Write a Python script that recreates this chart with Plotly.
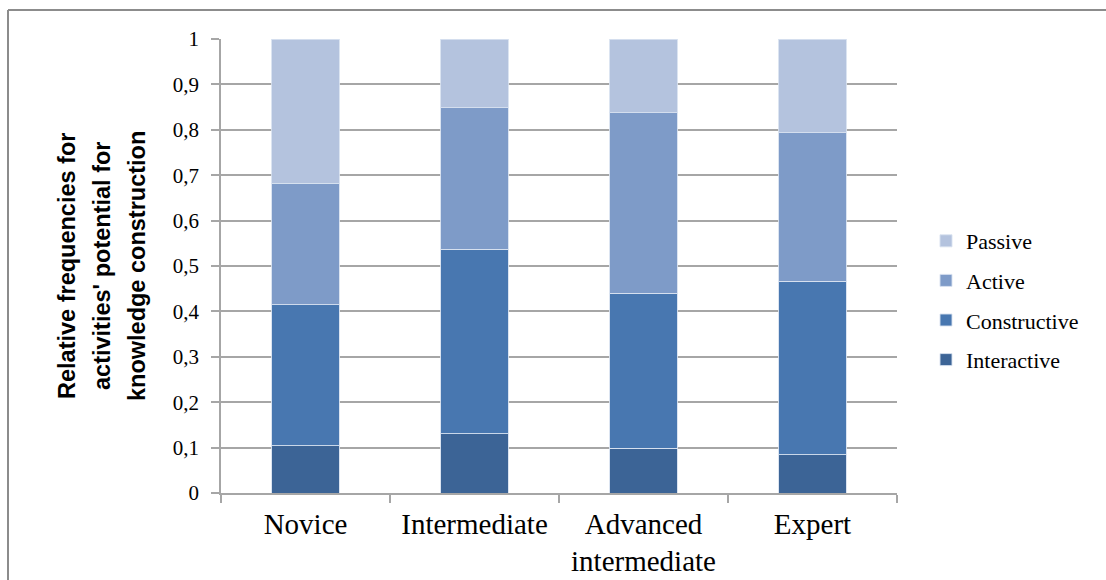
import plotly.graph_objects as go

# Expertise levels and the share of activities per knowledge-construction mode
levels = ["Novice", "Intermediate", "Advanced<br>intermediate", "Expert"]
interactive = [0.104, 0.130, 0.099, 0.084]
constructive = [0.311, 0.407, 0.341, 0.382]
active = [0.267, 0.312, 0.398, 0.327]
passive = [0.318, 0.151, 0.162, 0.207]

y_ticks = [0, 0.1, 0.2, 0.3, 0.4, 0.5, 0.6, 0.7, 0.8, 0.9, 1]
y_tick_text = ["0", "0,1", "0,2", "0,3", "0,4", "0,5", "0,6", "0,7", "0,8", "0,9", "1"]

title_lines = [
    "Relative frequencies for",
    "activities' potential for",
    "knowledge construction",
]

series = [
    ("Interactive", interactive, "#3C6496"),
    ("Constructive", constructive, "#4877B0"),
    ("Active", active, "#7E9BC8"),
    ("Passive", passive, "#B4C3DE"),
]

fig = go.Figure()
for i, (name, vals, color) in enumerate(series):
    fig.add_trace(go.Bar(
        x=levels, y=vals, name=name,
        marker=dict(color=color, line=dict(color="rgba(215,225,240,0.9)", width=1)),
        legendgroup=name,
        legendrank=len(series) - i,
    ))

W, H = 1106, 580
L, R, T, B = 221, 209, 39, 87
pw, ph = W - L - R, H - T - B

def px_x(x):
    return (x - L) / pw

def px_y(y):
    return (H - B - y) / ph

fig.update_layout(
    width=W, height=H,
    margin=dict(l=L, r=R, t=T, b=B, autoexpand=False),
    barmode="stack",
    bargap=0.6,
    paper_bgcolor="white",
    plot_bgcolor="white",
    font=dict(family="Liberation Serif", color="#000000"),
    showlegend=True,
    legend=dict(
        traceorder="grouped",
        tracegroupgap=8,
        x=px_x(926), y=px_y(220), xanchor="left", yanchor="top",
        font=dict(family="Liberation Serif", size=22, color="#000000"),
        bgcolor="rgba(0,0,0,0)",
    ),
    xaxis=dict(
        automargin=False,
        showgrid=False,
        showline=True, linecolor="#A6A6A6", linewidth=1.5,
        ticks="outside", tickson="boundaries", ticklen=8,
        tickcolor="#A6A6A6", tickwidth=1.5,
        ticklabelstandoff=4,
        tickfont=dict(family="Liberation Serif", size=29, color="#000000"),
    ),
    yaxis=dict(
        automargin=False,
        range=[0, 1],
        tickvals=y_ticks, ticktext=y_tick_text,
        showgrid=True, gridcolor="#A6A6A6", gridwidth=1.5,
        showline=True, linecolor="#A6A6A6", linewidth=1.5,
        ticks="outside", ticklen=8, tickcolor="#A6A6A6", tickwidth=1.5,
        ticklabelstandoff=8,
        tickfont=dict(family="Liberation Serif", size=21, color="#000000"),
        zeroline=False,
    ),
)

# Three-line rotated axis title
for line, cx in zip(title_lines, [67, 102, 137]):
    fig.add_annotation(
        text=line, textangle=-90,
        xref="paper", yref="paper", x=0, y=0.5,
        xanchor="center", yanchor="middle", xshift=cx - L,
        showarrow=False,
        font=dict(family="Liberation Sans", size=23.5, color="#000000", weight="bold"),
    )

# Outer frame (top and left edges)
frame_x0, frame_y0 = px_x(8), px_y(10)
fig.add_shape(type="line", xref="paper", yref="paper",
              x0=frame_x0, y0=frame_y0, x1=px_x(W + 5), y1=frame_y0,
              line=dict(color="#8C8C8C", width=2))
fig.add_shape(type="line", xref="paper", yref="paper",
              x0=frame_x0, y0=frame_y0, x1=frame_x0, y1=px_y(H + 5),
              line=dict(color="#8C8C8C", width=2))

fig.write_html("out.html")
